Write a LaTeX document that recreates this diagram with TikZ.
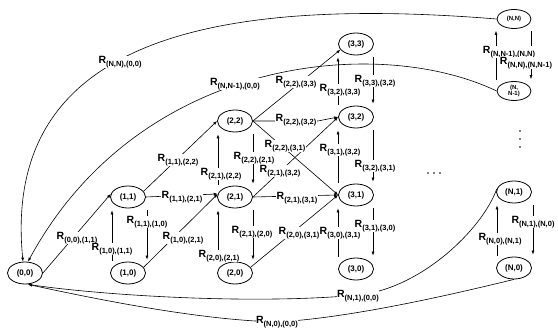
\documentclass[tikz,border=0pt]{standalone}
\usepackage{fontspec}
\setmainfont{Liberation Sans}
\usetikzlibrary{arrows.meta,shapes.geometric,calc}
\newcommand{\Rlab}[1]{\fontsize{10.5}{11}\selectfont\bfseries R\raisebox{-2.5pt}{\fontsize{7.5}{8}\selectfont #1}}
\begin{document}
\begin{tikzpicture}[x=1pt,y=-1pt,
  st/.style={draw, ellipse, minimum width=35pt, minimum height=22pt, inner sep=0pt, line width=0.8pt, font=\bfseries\fontsize{8}{9}\selectfont},
  stsmall/.style={st, minimum width=34pt, minimum height=19pt, align=center, font=\bfseries\fontsize{6}{6.5}\selectfont},
  arr/.style={-{Latex[length=4pt,width=3pt]}, line width=0.6pt},
  lab/.style={fill=white, inner sep=0.6pt}
]
\useasboundingbox (0,0) rectangle (558,329);

% states
\node[st] (n00) at (25,273) {(0,0)};
\node[st] (n10) at (128,273) {(1,0)};
\node[st] (n11) at (128,197) {(1,1)};
\node[st] (n20) at (235,273) {(2,0)};
\node[st] (n21) at (235,197) {(2,1)};
\node[st] (n22) at (235,121) {(2,2)};
\node[st] (n30) at (356,269) {(3,0)};
\node[st] (n31) at (356,195) {(3,1)};
\node[st] (n32) at (356,117) {(3,2)};
\node[st] (n33) at (356,44) {(3,3)};
\node[st] (nN0) at (514,268) {(N,0)};
\node[st] (nN1) at (514,192) {(N,1)};
\node[stsmall] (nNN1) at (514,91) {(N,\\N-1)};
\node[stsmall] (nNN) at (514,19) {(N,N)};

% vertical transitions
\draw[arr] ($(n10.north)+(-16,-1)$) -- ($(n11.south)+(-16,2)$);
\draw[arr] ($(n11.south)+(19,2)$) -- ($(n10.north)+(19,-2)$);
\draw[arr] ($(n20.north)+(-17,-1)$) -- ($(n21.south)+(-17,2)$);
\draw[arr] ($(n21.south)+(18,2)$) -- ($(n20.north)+(18,-2)$);
\draw[arr] ($(n21.north)+(-17,-1)$) -- ($(n22.south)+(-17,2)$);
\draw[arr] ($(n22.south)+(18,2)$) -- ($(n21.north)+(18,-2)$);
\draw[arr] ($(n30.north)+(-18,-1)$) -- ($(n31.south)+(-18,2)$);
\draw[arr] ($(n31.south)+(17,2)$) -- ($(n30.north)+(17,-2)$);
\draw[arr] ($(n31.north)+(-18,-1)$) -- ($(n32.south)+(-18,2)$);
\draw[arr] ($(n32.south)+(17,2)$) -- ($(n31.north)+(17,-2)$);
\draw[arr] ($(n32.north)+(-18,-1)$) -- ($(n33.south)+(-18,2)$);
\draw[arr] ($(n33.south)+(17,2)$) -- ($(n32.north)+(17,-2)$);
\draw[arr] ($(nN0.north)+(-17,-1)$) -- ($(nN1.south)+(-17,2)$);
\draw[arr] ($(nN1.south)+(19,2)$) -- ($(nN0.north)+(19,-2)$);
\draw[arr] ($(nNN1.north)+(-18,-1)$) -- ($(nNN.south)+(-18,2)$);
\draw[arr] ($(nNN.south)+(17,2)$) -- ($(nNN1.north)+(17,-2)$);

% forward transitions
\draw[arr] (n00.east) -- (n11.170);
\draw[arr] (n11.east) -- (n21.170);
\draw[arr] (n10.20) -- (n21.170);
\draw[arr] (n11.20) -- (n22.west);
\draw[arr] (n20.20) -- (n31.west);
\draw[arr] (n21.east) -- (n31.west);
\draw[arr] (n21.east) -- (n32.west);
\draw[arr] (n22.east) -- (n31.west);
\draw[arr] (n22.east) -- ++(65,0) -- (n32.west);
\draw[arr] (n22.east) -- (n33.200);

% returns to (0,0)
\draw[arr] (nNN.west) .. controls (200,-5) and (2,45) .. ($(n00.north)+(-2,0)$);
\draw[arr] (nNN1.west) .. controls (380,35) and (140,55) .. ($(n00.north)+(3,0)$);
\draw[arr] (nN1.170) .. controls (482,230) and (420,289) .. (358,295) .. controls (250,305) and (100,295) .. ($(n00.south)+(3,0)$);
\draw[arr] (nN0.south) .. controls (450,295) and (350,318) .. (277,322) .. controls (200,320) and (100,300) .. ($(n00.south)+(3,0)$);

% dots
\fill (428,173) circle (0.9);
\fill (434,173) circle (0.9);
\fill (440,173) circle (0.9);
\fill (520,131) circle (0.9);
\fill (520,139) circle (0.9);
\fill (520,147) circle (0.9);

% labels
\node[lab] (l0011) at (77,238) {\Rlab{(0,0),(1,1)}};
\node[lab] (l1011) at (112,249) {\Rlab{(1,0),(1,1)}};
\node[lab] (l1110) at (147,222) {\Rlab{(1,1),(1,0)}};
\node[lab] (l1121) at (182,197) {\Rlab{(1,1),(2,1)}};
\node[lab] (l1021) at (183,238) {\Rlab{(1,0),(2,1)}};
\node[lab] (l2021) at (219,256) {\Rlab{(2,0),(2,1)}};
\node[lab] (l2120) at (252,232) {\Rlab{(2,1),(2,0)}};
\node[lab] (l2031) at (299,233) {\Rlab{(2,0),(3,1)}};
\node[lab] (l1122) at (178,160) {\Rlab{(1,1),(2,2)}};
\node[lab] (l2122) at (221,174) {\Rlab{(2,1),(2,2)}};
\node[lab] (l2221) at (254,158) {\Rlab{(2,2),(2,1)}};
\node[lab] (l2132) at (280,171) {\Rlab{(2,1),(3,2)}};
\node[lab] (l2231) at (285,146) {\Rlab{(2,2),(3,1)}};
\node[lab] (l2131) at (297,198) {\Rlab{(2,1),(3,1)}};
\node[lab] (l2232) at (296,120) {\Rlab{(2,2),(3,2)}};
\node[lab] (l2233) at (296,82) {\Rlab{(2,2),(3,3)}};
\node[lab] (l3233) at (340,90) {\Rlab{(3,2),(3,3)}};
\node[lab] (l3332) at (375,81) {\Rlab{(3,3),(3,2)}};
\node[lab] (l3132) at (340,150) {\Rlab{(3,1),(3,2)}};
\node[lab] (l3231) at (375,166) {\Rlab{(3,2),(3,1)}};
\node[lab] (l3031) at (340,233) {\Rlab{(3,0),(3,1)}};
\node[lab] (l3130) at (375,226) {\Rlab{(3,1),(3,0)}};
\node[lab] (lN0N1) at (500,239) {\Rlab{(N,0),(N,1)}};
\node[lab] (lN1N0) at (533,222) {\Rlab{(N,1),(N,0)}};
\node[lab] (lNN1NN) at (509,52) {\Rlab{(N,N-1),(N,N)}};
\node[lab] (lNNNN1) at (526,63) {\Rlab{(N,N),(N,N-1)}};
\node[lab] (lNN00) at (120,62) {\Rlab{(N,N),(0,0)}};
\node[lab] (lNN100) at (235,84) {\Rlab{(N,N-1),(0,0)}};
\node[lab] (lN100) at (358,296) {\Rlab{(N,1),(0,0)}};
\node[lab] (lN000) at (277,322) {\Rlab{(N,0),(0,0)}};
\end{tikzpicture}
\end{document}
